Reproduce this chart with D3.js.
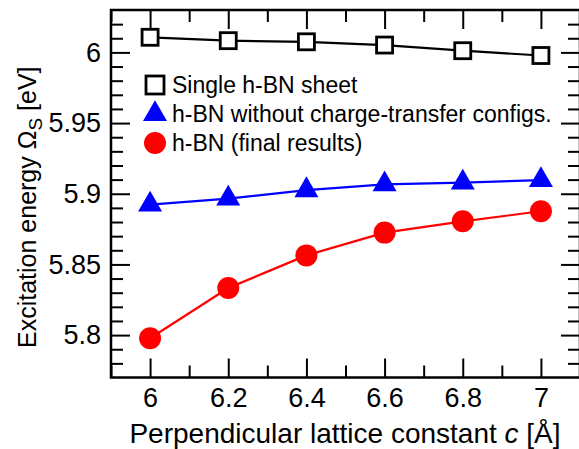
<!DOCTYPE html>
<html>
<head>
<meta charset="utf-8">
<script src="https://cdn.jsdelivr.net/npm/d3@7"></script>
<style>
  html, body { margin: 0; padding: 0; background: #fff; }
  svg { display: block; }
  text { font-family: "Liberation Sans", Arial, Helvetica, sans-serif; fill: #000; }
</style>
</head>
<body>
<svg id="chart" width="579" height="449"></svg>
<script>
// Lattice constants c (Å)
const latticeC = [6.0, 6.2, 6.4, 6.6, 6.8, 7.0];
// Excitation energies (eV)
const singleSheet = [6.0107, 6.0083, 6.0075, 6.0052, 6.0012, 5.9978];
const noChargeTransfer = [5.8923, 5.8966, 5.9025, 5.9067, 5.9079, 5.9096];
const finalResults = [5.7978, 5.8333, 5.8564, 5.8725, 5.8805, 5.8876];

const xTickValues = [6, 6.2, 6.4, 6.6, 6.8, 7];
const xTickLabels = ["6", "6.2", "6.4", "6.6", "6.8", "7"];
const yTickValues = [5.8, 5.85, 5.9, 5.95, 6];
const yTickLabels = ["5.8", "5.85", "5.9", "5.95", "6"];

const legendLabels = [
  "Single h-BN sheet",
  "h-BN without charge-transfer configs.",
  "h-BN (final results)"
];

const svg = d3.select("#chart");
const L = 111, R = 580, T = 10, B = 377.5;

const x = d3.scaleLinear().domain([5.9, 7.1]).range([L, R]);
const y = d3.scaleLinear().domain([5.77, 6.03]).range([B, T]);

const majorLen = 19, minorLen = 12;
const xMinor = d3.range(5.9, 7.1001, 0.1).map(v => +v.toFixed(2)).filter(v => !xTickValues.some(t => Math.abs(t - v) < 1e-6));
const yMinor = d3.range(5.77, 6.0301, 0.01).map(v => +v.toFixed(2)).filter(v => !yTickValues.some(t => Math.abs(t - v) < 1e-6) && v > 5.77 && v < 6.03);

const fmtX = d => xTickLabels[xTickValues.indexOf(d)];
const fmtY = d => yTickLabels[yTickValues.indexOf(d)];

function styleAxis(g) {
  g.select(".domain").remove();
  g.selectAll("line").attr("stroke", "#000").attr("stroke-width", 2);
}
function styleLabels(g) {
  g.selectAll("text").attr("font-size", 27).attr("font-family", "Liberation Sans, Arial, sans-serif");
}

// Bottom axis (ticks inward)
svg.append("g").attr("transform", `translate(0,${B})`)
  .call(d3.axisBottom(x).tickValues(xTickValues).tickSize(-majorLen).tickPadding(10).tickFormat(fmtX))
  .call(styleAxis).call(styleLabels);
svg.append("g").attr("transform", `translate(0,${B})`)
  .call(d3.axisBottom(x).tickValues(xMinor).tickSize(-minorLen).tickFormat(""))
  .call(styleAxis);
// Top axis mirror
svg.append("g").attr("transform", `translate(0,${T})`)
  .call(d3.axisTop(x).tickValues(xTickValues).tickSize(-majorLen).tickFormat(""))
  .call(styleAxis);
svg.append("g").attr("transform", `translate(0,${T})`)
  .call(d3.axisTop(x).tickValues(xMinor).tickSize(-minorLen).tickFormat(""))
  .call(styleAxis);

// Left axis
svg.append("g").attr("transform", `translate(${L},0)`)
  .call(d3.axisLeft(y).tickValues(yTickValues).tickSize(-majorLen).tickPadding(10).tickFormat(fmtY))
  .call(styleAxis).call(styleLabels);
svg.append("g").attr("transform", `translate(${L},0)`)
  .call(d3.axisLeft(y).tickValues(yMinor).tickSize(-minorLen).tickFormat(""))
  .call(styleAxis);
// Right axis mirror
svg.append("g").attr("transform", `translate(${R},0)`)
  .call(d3.axisRight(y).tickValues(yTickValues).tickSize(-majorLen).tickFormat(""))
  .call(styleAxis);
svg.append("g").attr("transform", `translate(${R},0)`)
  .call(d3.axisRight(y).tickValues(yMinor).tickSize(-minorLen).tickFormat(""))
  .call(styleAxis);

// Frame
svg.append("rect").attr("x", L).attr("y", T).attr("width", R - L).attr("height", B - T)
  .attr("fill", "none").attr("stroke", "#000").attr("stroke-width", 2.5);

// Series
const series = [
  { values: singleSheet, color: "#000", symbol: "square" },
  { values: noChargeTransfer, color: "#0000ff", symbol: "triangle" },
  { values: finalResults, color: "#ff0000", symbol: "circle" }
];

const line = d3.line().x((d, i) => x(latticeC[i])).y(d => y(d));

function drawMarker(g, type, color) {
  if (type === "square") {
    g.append("rect").attr("x", -8).attr("y", -8).attr("width", 16).attr("height", 16)
      .attr("fill", "#fff").attr("stroke", color).attr("stroke-width", 2.8);
  } else if (type === "triangle") {
    g.append("path").attr("d", d3.symbol(d3.symbolTriangle, 250)()).attr("fill", color);
  } else {
    g.append("circle").attr("r", 11).attr("fill", color);
  }
}

series.forEach(s => {
  svg.append("path").datum(s.values).attr("d", line)
    .attr("fill", "none").attr("stroke", s.color).attr("stroke-width", 2.2);
  s.values.forEach((v, i) => {
    const g = svg.append("g").attr("transform", `translate(${x(latticeC[i])},${y(v)})`);
    drawMarker(g, s.symbol, s.color);
  });
});

// Legend
const legendRows = [85, 114, 143];
series.forEach((s, i) => {
  const g = svg.append("g").attr("transform", `translate(155,${legendRows[i]})`);
  if (s.symbol === "square") {
    g.append("rect").attr("x", -9).attr("y", -9).attr("width", 18).attr("height", 18)
      .attr("fill", "#fff").attr("stroke", s.color).attr("stroke-width", 2.8);
  } else {
    drawMarker(g, s.symbol, s.color);
  }
  svg.append("text").attr("x", 172).attr("y", legendRows[i] + 8)
    .attr("font-size", 23).text(legendLabels[i]);
});

// Axis titles
const xt = svg.append("text").attr("x", 345).attr("y", 443)
  .attr("text-anchor", "middle").attr("font-size", 28);
xt.append("tspan").text("Perpendicular lattice constant ");
xt.append("tspan").attr("font-style", "italic").text("c");
xt.append("tspan").text(" [Å]");

const yt = svg.append("text").attr("transform", "translate(36,348) rotate(-90)")
  .attr("text-anchor", "start").attr("font-size", 25);
yt.append("tspan").text("Excitation energy Ω");
yt.append("tspan").attr("font-size", 19).attr("dy", 6).text("S");
yt.append("tspan").attr("dy", -6).text(" [eV]");
</script>
</body>
</html>
